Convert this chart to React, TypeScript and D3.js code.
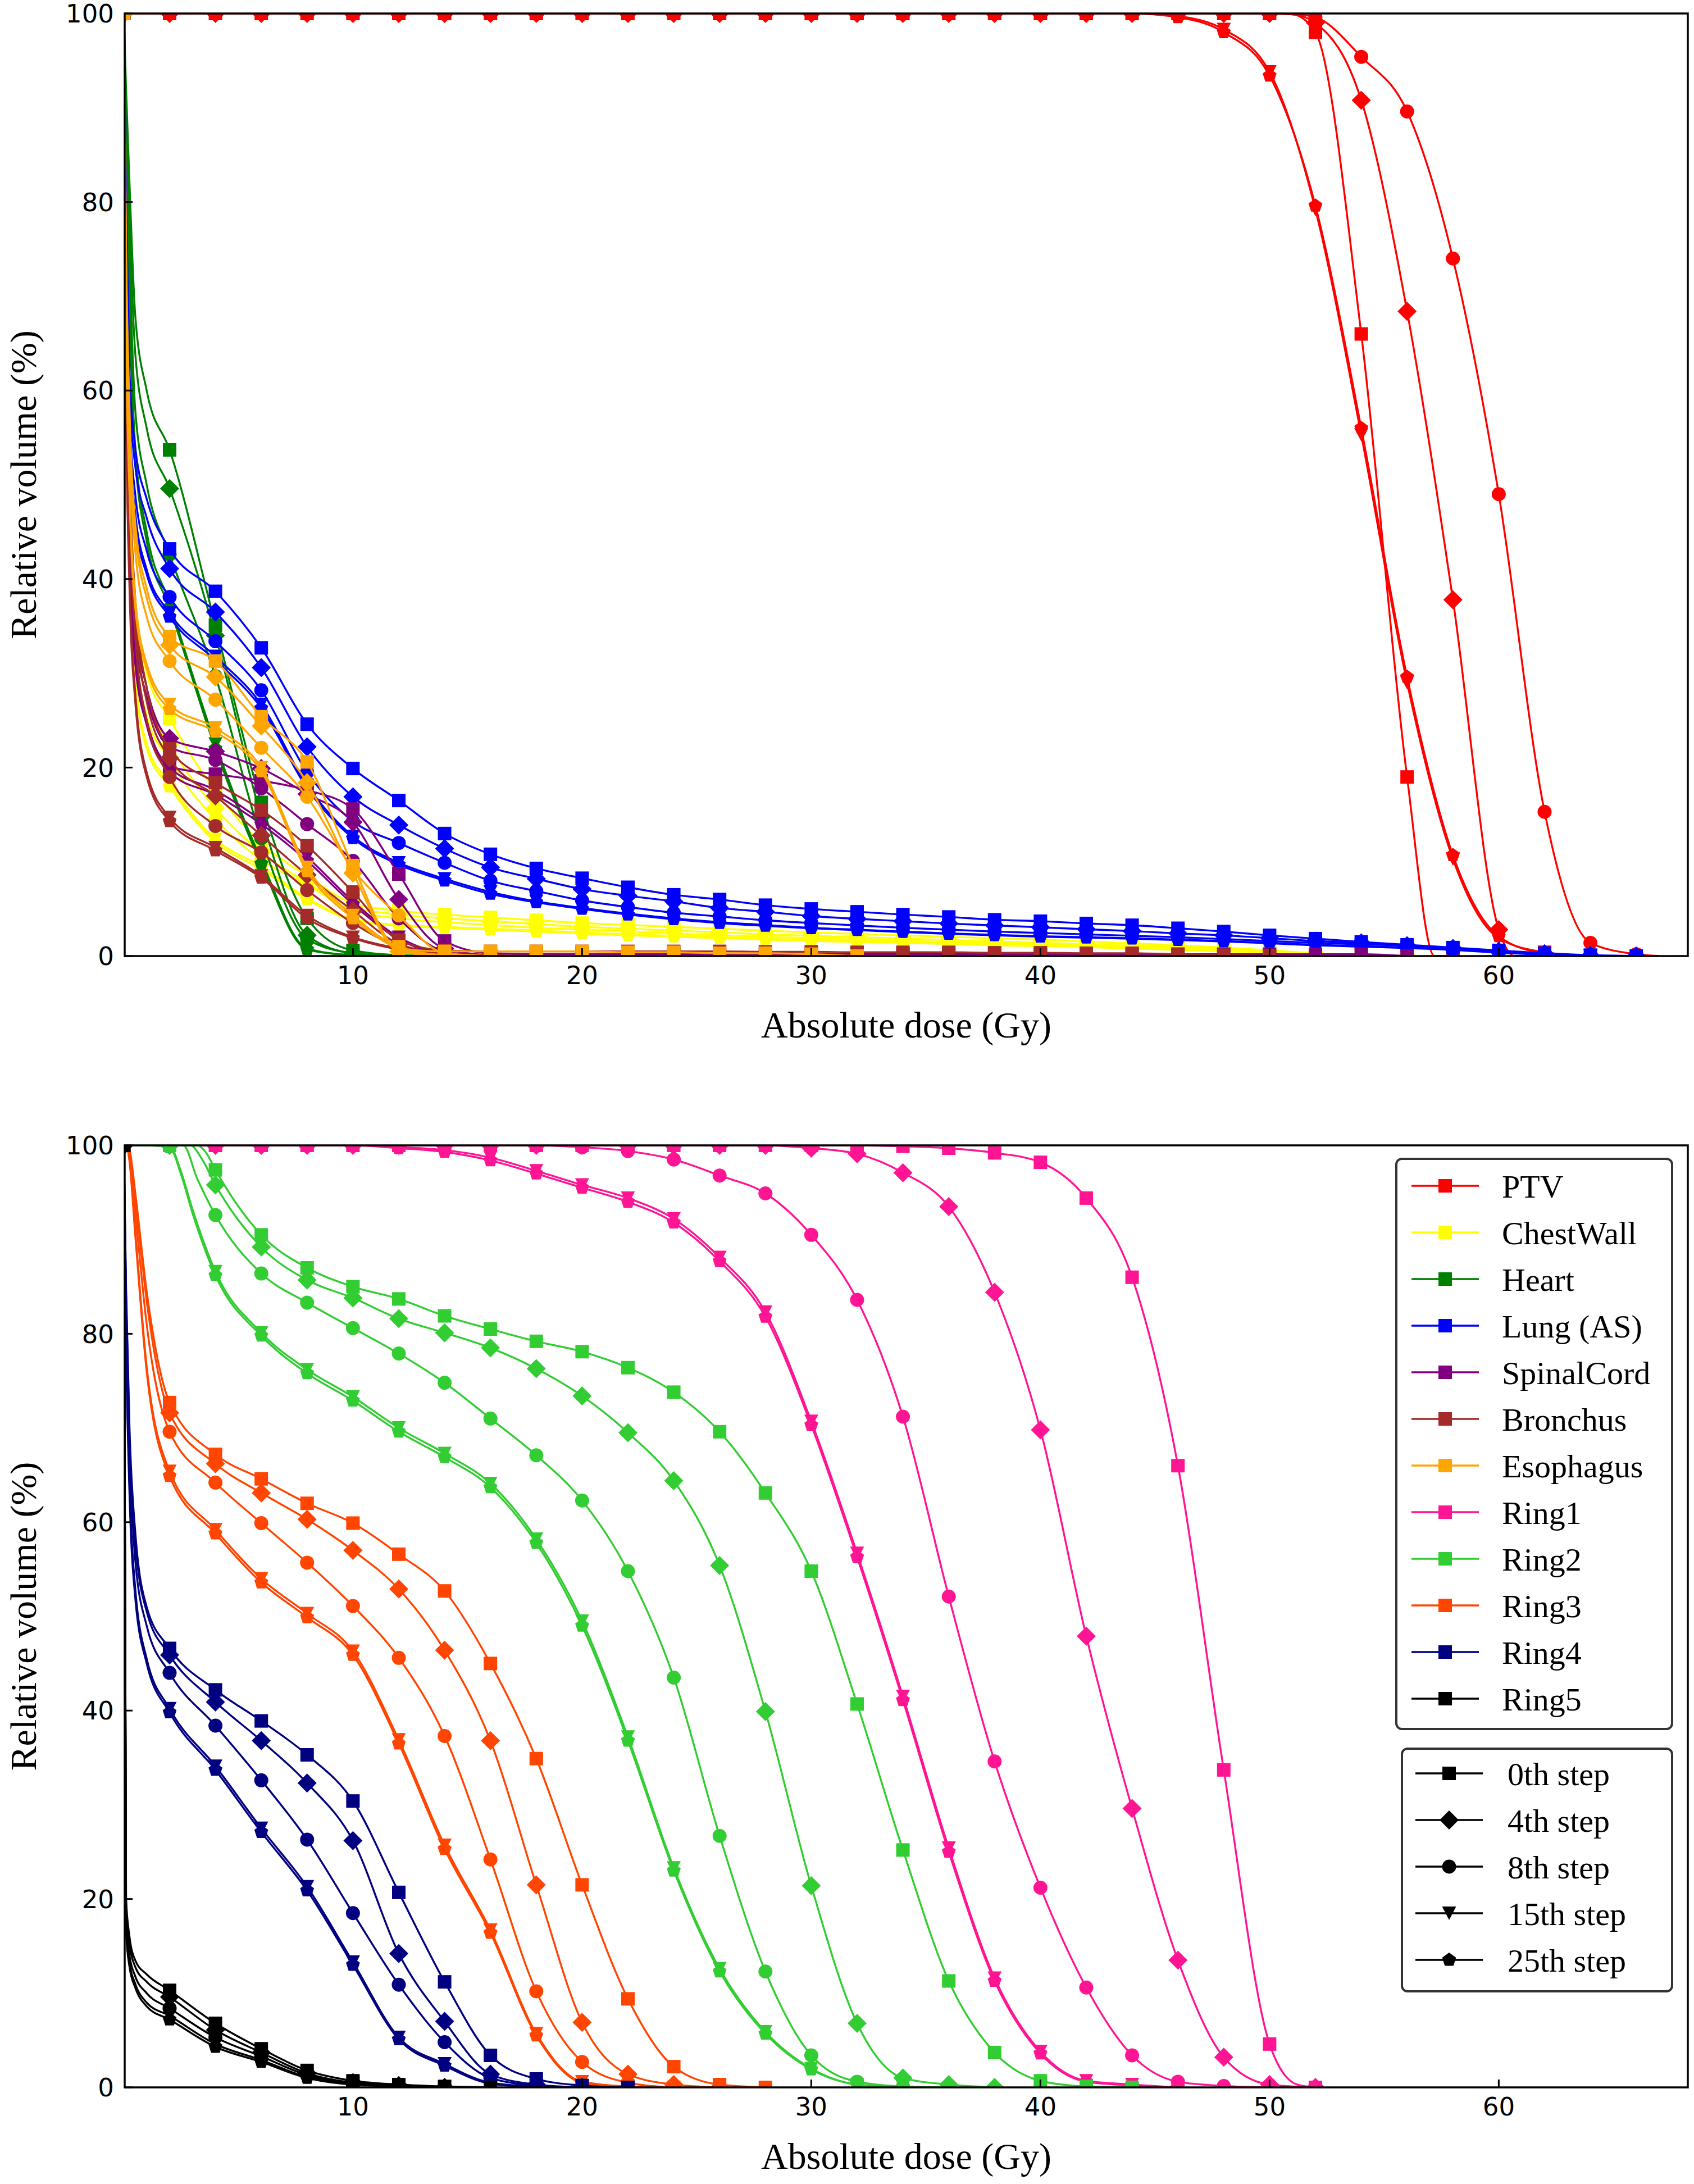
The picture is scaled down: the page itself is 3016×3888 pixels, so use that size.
import React from 'react';
import * as d3 from 'd3';

const W = 3016;
const H = 3888;
const X_DOMAIN: [number, number] = [0.04, 68.25];
const PLOT_LEFT = 222;
const PLOT_RIGHT = 3005;
const TOP_PANEL = { top: 24, bottom: 1702 };
const BOTTOM_PANEL = { top: 2039, bottom: 3716 };

const X_TICKS = [10, 20, 30, 40, 50, 60];
const Y_TICKS = [0, 20, 40, 60, 80, 100];
const HEAD_DOSES = [0.1, 0.25, 0.5, 1];
const STEP_LABELS = ['0th step', '4th step', '8th step', '15th step', '25th step'];
const STEP_MARKERS = ['square', 'diamond', 'circle', 'triangleDown', 'pentagon'];

const STRUCTURE_NAMES = ['PTV', 'ChestWall', 'Heart', 'Lung (AS)', 'SpinalCord', 'Bronchus', 'Esophagus', 'Ring1', 'Ring2', 'Ring3', 'Ring4', 'Ring5'];
const STRUCTURE_COLORS = ['#ff0000', '#ffff00', '#008000', '#0000ff', '#800080', '#a52a2a', '#ffa500', '#ff1493', '#32cd32', '#ff4500', '#000080', '#000000'];

// ---------- values at even doses (0, 2, 4, ... Gy), one row per step (0th, 4th, 8th, 15th, 25th)
const ptvEven = [
  [100, 100, 100, 100, 100, 100, 100, 100, 100, 100, 100, 100, 100, 100, 100, 100, 100, 100, 100, 100, 100, 100, 100, 100, 100, 100, 98.0, 66.0, 19.0, 0],
  [100, 100, 100, 100, 100, 100, 100, 100, 100, 100, 100, 100, 100, 100, 100, 100, 100, 100, 100, 100, 100, 100, 100, 100, 100, 100, 99.0, 90.8, 68.4, 37.8, 2.8, 0],
  [100, 100, 100, 100, 100, 100, 100, 100, 100, 100, 100, 100, 100, 100, 100, 100, 100, 100, 100, 100, 100, 100, 100, 100, 100, 100, 99.6, 95.4, 89.6, 74.0, 49.0, 15.3, 1.4, 0.2],
  [100, 100, 100, 100, 100, 100, 100, 100, 100, 100, 100, 100, 100, 100, 100, 100, 100, 100, 100, 100, 100, 100, 100, 99.7, 98.3, 93.8, 79.2, 55.3, 29.0, 10.3, 1.9, 0.4, 0],
  [100, 100, 100, 100, 100, 100, 100, 100, 100, 100, 100, 100, 100, 100, 100, 100, 100, 100, 100, 100, 100, 100, 100, 99.6, 98.0, 93.4, 79.6, 56.0, 29.6, 10.7, 2.1, 0.3, 0],
];
const ptvHead = [[100, 100, 100, 100], [100, 100, 100, 100], [100, 100, 100, 100], [100, 100, 100, 100], [100, 100, 100, 100]];

const chestWallEven = [
  [100, 25.2, 17.5, 12.0, 8.5, 5.6, 4.8, 4.4, 4.1, 3.8, 3.5, 3.3, 3.1, 2.9, 2.7, 2.5, 2.35, 2.2, 2.05, 1.9, 1.75, 1.55, 1.35, 1.15, 0.9, 0.6, 0.3, 0.1, 0],
  [100, 22.5, 15.7, 11.0, 7.8, 5.2, 4.4, 4.0, 3.7, 3.4, 3.1, 2.9, 2.7, 2.5, 2.3, 2.15, 2.0, 1.85, 1.7, 1.55, 1.4, 1.25, 1.1, 0.95, 0.75, 0.5, 0.25, 0.05, 0],
  [100, 20.8, 14.5, 10.2, 7.6, 4.8, 4.0, 3.6, 3.3, 3.0, 2.8, 2.6, 2.4, 2.2, 2.05, 1.9, 1.75, 1.6, 1.5, 1.35, 1.25, 1.1, 0.95, 0.8, 0.65, 0.45, 0.2, 0.05, 0],
  [100, 18.4, 12.4, 9.5, 6.15, 3.9, 3.3, 3.1, 2.9, 2.7, 2.5, 2.3, 2.15, 2.0, 1.85, 1.7, 1.6, 1.45, 1.35, 1.2, 1.1, 1.0, 0.85, 0.7, 0.55, 0.4, 0.2, 0.05, 0],
  [100, 18.0, 12.1, 9.2, 6.0, 3.8, 3.2, 3.0, 2.8, 2.6, 2.4, 2.2, 2.05, 1.9, 1.75, 1.6, 1.5, 1.4, 1.3, 1.15, 1.05, 0.95, 0.8, 0.65, 0.5, 0.35, 0.15, 0.05, 0],
];
const chestWallHead = [[70, 50, 38, 30], [68, 48, 35, 27.5], [65, 45, 33, 25.5], [62, 42, 30, 22.5], [61, 41, 29.5, 22]];

const heartEven = [
  [100, 53.7, 35.1, 16.3, 4.0, 0.6, 0.1, 0],
  [100, 49.6, 34.0, 14.8, 2.2, 0.3, 0],
  [100, 42.6, 29.7, 12.5, 1.8, 0.3, 0],
  [100, 37.5, 22.5, 10.2, 0.8, 0.1, 0],
  [100, 37.0, 22.0, 9.8, 0.7, 0.1, 0],
];
const heartHead = [[92, 82, 68, 60], [90, 78, 64, 56], [88, 74, 58, 50], [86, 70, 54, 45], [85, 69, 53, 44]];

const lungEven = [
  [100, 43.2, 38.7, 32.7, 24.6, 19.9, 16.5, 13.0, 10.8, 9.3, 8.26, 7.3, 6.5, 6.0, 5.4, 5.0, 4.7, 4.4, 4.15, 3.85, 3.7, 3.46, 3.27, 2.95, 2.6, 2.2, 1.85, 1.5, 1.2, 0.9, 0.6, 0.3, 0.1, 0],
  [100, 41.1, 36.5, 30.6, 22.2, 16.9, 13.9, 11.4, 9.4, 8.2, 7.1, 6.4, 5.8, 5.1, 4.7, 4.25, 3.95, 3.7, 3.45, 3.25, 3.05, 2.85, 2.65, 2.4, 2.2, 1.9, 1.6, 1.4, 1.1, 0.8, 0.5, 0.25, 0.05, 0],
  [100, 38.1, 33.4, 28.2, 19.5, 14.3, 12.0, 9.9, 8.0, 6.9, 5.9, 5.2, 4.6, 4.2, 3.8, 3.5, 3.25, 3.0, 2.8, 2.6, 2.45, 2.3, 2.15, 2.0, 1.8, 1.6, 1.4, 1.25, 1.1, 0.8, 0.5, 0.2, 0],
  [100, 36.4, 31.8, 26.7, 18.1, 12.7, 9.9, 8.2, 6.8, 5.8, 5.1, 4.5, 4.0, 3.6, 3.3, 3.0, 2.8, 2.6, 2.4, 2.25, 2.1, 2.0, 1.9, 1.75, 1.6, 1.4, 1.2, 1.05, 0.9, 0.7, 0.4, 0.2, 0],
  [100, 36.0, 31.4, 26.3, 17.8, 12.5, 9.7, 8.0, 6.6, 5.7, 5.0, 4.4, 3.9, 3.5, 3.2, 2.95, 2.75, 2.55, 2.35, 2.2, 2.05, 1.95, 1.85, 1.7, 1.55, 1.35, 1.15, 1.0, 0.85, 0.65, 0.35, 0.15, 0],
];
const lungHead = [[80, 62, 54, 48.5], [78, 60, 52, 46.5], [75, 57, 49, 43], [73, 55, 47, 41], [72, 54, 46, 40.5]];

const spinalCordEven = [
  [100, 20.1, 19.3, 18.6, 17.6, 15.6, 8.7, 1.6, 0.3, 0.2, 0.2, 0.2, 0.2, 0.2, 0.2, 0.2, 0.2, 0.2, 0.2, 0.2, 0.2, 0.2, 0.2, 0.2, 0.2, 0.2, 0.2, 0.2, 0],
  [100, 23.1, 21.7, 19.9, 17.2, 14.2, 6.0, 0.8, 0.1, 0],
  [100, 22.2, 20.8, 17.8, 14.0, 10.1, 4.0, 0.5, 0],
  [100, 20.0, 17.6, 14.4, 10.5, 5.8, 2.0, 0.3, 0],
  [100, 19.5, 17.1, 14.0, 10.1, 5.5, 1.8, 0.2, 0],
];
const spinalCordHead = [[65, 45, 32, 25], [68, 48, 36, 28.5], [66, 46, 34, 27.5], [64, 44, 32, 25], [63, 43, 31, 24.5]];

const bronchusEven = [
  [100, 22.0, 18.4, 15.5, 11.7, 6.8, 1.7, 0.6, 0.5, 0.5, 0.5, 0.5, 0.5, 0.5, 0.45, 0.45, 0.4, 0.4, 0.4, 0.35, 0.35, 0.3, 0.3, 0.2, 0.1, 0],
  [100, 21.0, 17.0, 12.8, 8.6, 4.8, 1.3, 0.3, 0.1, 0],
  [100, 19.0, 13.8, 11.0, 7.0, 3.5, 1.0, 0.2, 0],
  [100, 14.7, 11.5, 8.5, 4.3, 2.0, 0.8, 0.1, 0],
  [100, 14.3, 11.2, 8.3, 4.0, 1.9, 0.7, 0.1, 0],
];
const bronchusHead = [[72, 52, 38, 28.5], [70, 50, 36, 27], [68, 48, 34, 25], [60, 40, 28, 19.5], [59, 39, 27, 19]];

const esophagusEven = [
  [100, 33.9, 31.3, 25.4, 20.6, 9.6, 0.8, 0.5, 0.5, 0.5, 0.5, 0.4, 0.4, 0.3, 0.3, 0.2, 0],
  [100, 33.0, 29.6, 24.4, 18.4, 8.8, 0.5, 0],
  [100, 31.3, 27.2, 22.1, 16.9, 9.2, 4.3, 0.3, 0],
  [100, 26.7, 24.2, 20.0, 9.4, 4.3, 1.0, 0.1, 0],
  [100, 26.2, 23.8, 19.6, 9.0, 4.0, 0.8, 0],
];
const esophagusHead = [[75, 58, 46, 39], [74, 57, 45, 38], [72, 55, 43, 36], [68, 50, 38, 31], [67, 49, 37, 30.5]];

const ring1Even = [
  [100, 100, 100, 100, 100, 100, 100, 100, 100, 100, 100, 100, 100, 100, 100, 100, 100, 99.9, 99.7, 99.2, 98.2, 94.4, 86.0, 66.0, 33.7, 4.6, 0],
  [100, 100, 100, 100, 100, 100, 100, 100, 100, 100, 100, 100, 100, 100, 100, 99.7, 99.1, 97.1, 93.5, 84.4, 69.8, 47.9, 29.6, 13.5, 3.2, 0.3, 0],
  [100, 100, 100, 100, 100, 100, 100, 100, 100, 100, 99.8, 99.4, 98.5, 96.8, 94.9, 90.5, 83.6, 71.2, 52.1, 34.6, 21.2, 10.6, 3.4, 0.6, 0.15, 0],
  [100, 100, 100, 100, 100, 100, 99.8, 99.5, 98.7, 97.3, 95.8, 94.4, 92.2, 88.1, 82.3, 70.7, 56.7, 41.5, 25.4, 11.6, 3.8, 0.7, 0.3, 0],
  [100, 100, 100, 100, 100, 100, 99.7, 99.3, 98.4, 97.0, 95.5, 94.0, 91.8, 87.7, 81.8, 70.3, 56.3, 41.1, 25.0, 11.3, 3.6, 0.6, 0.2, 0],
];
const ring1Head = [[100, 100, 100, 100], [100, 100, 100, 100], [100, 100, 100, 100], [100, 100, 100, 100], [100, 100, 100, 100]];

const ring2Even = [
  [100, 100, 97.4, 90.5, 87.0, 85.0, 83.7, 81.9, 80.5, 79.2, 78.1, 76.4, 73.8, 69.6, 63.1, 54.8, 40.7, 25.2, 11.3, 3.7, 0.7, 0.1, 0],
  [100, 100, 95.8, 89.2, 85.7, 83.8, 81.6, 80.1, 78.5, 76.3, 73.4, 69.5, 64.4, 55.4, 39.9, 21.4, 6.8, 1.0, 0.3, 0],
  [100, 100, 92.6, 86.4, 83.3, 80.6, 77.9, 74.8, 71.0, 67.1, 62.3, 54.8, 43.5, 26.7, 12.3, 3.4, 0.6, 0.1, 0],
  [100, 99.9, 86.6, 80.1, 76.2, 73.3, 70.0, 67.3, 64.1, 58.2, 49.5, 37.2, 23.3, 12.6, 5.9, 2.0, 0.3, 0],
  [100, 99.8, 86.2, 79.8, 75.8, 72.9, 69.6, 66.9, 63.7, 57.8, 49.0, 36.8, 23.0, 12.3, 5.7, 1.9, 0.3, 0],
];
const ring2Head = [[100, 100, 100, 100], [100, 100, 100, 100], [100, 100, 100, 100], [100, 100, 100, 100], [100, 100, 100, 100]];

const ring3Even = [
  [100, 72.7, 67.2, 64.6, 62.0, 59.9, 56.6, 52.7, 45.0, 34.9, 21.5, 9.4, 2.2, 0.3, 0],
  [100, 71.6, 66.2, 63.1, 60.3, 57.0, 52.9, 46.4, 36.8, 21.5, 6.9, 1.4, 0.3, 0],
  [100, 69.6, 64.2, 59.9, 55.7, 51.1, 45.6, 37.3, 24.2, 10.2, 2.7, 0.5, 0],
  [100, 65.4, 59.2, 54.0, 50.3, 46.3, 36.9, 25.7, 16.7, 5.7, 0.6, 0.1, 0],
  [100, 64.9, 58.8, 53.6, 49.9, 45.9, 36.5, 25.3, 16.4, 5.5, 0.5, 0],
];
const ring3Head = [[100, 99.5, 95, 84.5], [100, 99.3, 94.5, 83.5], [100, 99, 93, 81], [100, 98.5, 91, 76.5], [100, 98.3, 90.5, 76]];

const ring4Even = [
  [100, 46.6, 42.2, 38.9, 35.3, 30.4, 20.7, 11.2, 3.4, 0.9, 0.2, 0],
  [100, 45.9, 40.9, 36.8, 32.3, 26.2, 14.2, 7.0, 1.4, 0.3, 0],
  [100, 44.0, 38.4, 32.6, 26.3, 18.5, 10.9, 4.8, 1.0, 0.2, 0],
  [100, 40.2, 34.1, 27.5, 21.3, 13.3, 5.3, 2.5, 0.5, 0.1, 0],
  [100, 39.8, 33.7, 27.1, 20.9, 13.0, 5.1, 2.3, 0.4, 0],
];
const ring4Head = [[85, 70, 59, 51], [84, 69, 58, 50.5], [83, 68, 56, 49], [80, 64, 53, 45.5], [79, 63, 52, 45]];

const ring5Even = [
  [100, 10.3, 6.8, 4.1, 1.8, 0.7, 0.3, 0.1, 0],
  [100, 9.6, 6.1, 3.7, 1.5, 0.5, 0.2, 0],
  [100, 8.4, 5.3, 3.3, 1.3, 0.45, 0.15, 0],
  [100, 7.6, 4.6, 2.9, 1.1, 0.35, 0.1, 0],
  [100, 7.2, 4.3, 2.7, 1.0, 0.3, 0.1, 0],
];
const ring5Head = [[20, 16, 13.5, 12.0], [19, 15.2, 12.8, 11.2], [18, 14, 11.8, 10.0], [17, 13.2, 11, 9.0], [16.5, 12.8, 10.6, 8.6]];

// extra shape knots (no marker): key = structure|step index
const EXTRA_KNOTS: Record<string, [number, number][]> = {
  'PTV|0': [[51, 99.9], [57.2, 0]],
  'PTV|1': [[51, 99.9], [60.7, 0]],
  'PTV|2': [[51, 99.95], [67, 0]],
  'Ring1|0': [[51.2, 0.3]],
  'Ring2|0': [[3.2, 100], [3.6, 99.2]],
  'Ring2|1': [[2.9, 100], [3.4, 98.6]],
  'Ring2|2': [[2.6, 100], [3.2, 96.5]],
  'Ring2|3': [[2.5, 97.2], [3, 93.2]],
  'Ring2|4': [[2.5, 96.9], [3, 92.8]],
};

const EVEN_SETS = [ptvEven, chestWallEven, heartEven, lungEven, spinalCordEven, bronchusEven, esophagusEven, ring1Even, ring2Even, ring3Even, ring4Even, ring5Even];
const HEAD_SETS = [ptvHead, chestWallHead, heartHead, lungHead, spinalCordHead, bronchusHead, esophagusHead, ring1Head, ring2Head, ring3Head, ring4Head, ring5Head];

const TOP_IDX = [0, 1, 2, 3, 4, 5, 6];
const BOTTOM_IDX = [7, 8, 9, 10, 11];

const SERIF = '"Liberation Serif", "Times New Roman", Times, serif';
const SANS = '"DejaVu Sans", Verdana, sans-serif';

const x = d3.scaleLinear().domain(X_DOMAIN).range([PLOT_LEFT, PLOT_RIGHT]);

function markerPath(kind: string): string {
  switch (kind) {
    case 'square':
      return 'M-12,-12H12V12H-12Z';
    case 'diamond':
      return 'M0,-17L17,0L0,17L-17,0Z';
    case 'circle':
      return 'M12.5,0A12.5,12.5 0 1 1 -12.5,0A12.5,12.5 0 1 1 12.5,0Z';
    case 'triangleDown':
      return 'M-12.5,-12L12.5,-12L0,12Z';
    case 'pentagon': {
      const r = 13;
      const pts = d3.range(5).map((k) => {
        const a = -Math.PI / 2 + (k * 2 * Math.PI) / 5;
        return `${(r * Math.cos(a)).toFixed(2)},${(r * Math.sin(a)).toFixed(2)}`;
      });
      return 'M' + pts.join('L') + 'Z';
    }
    default:
      return '';
  }
}

function buildKnots(si: number, step: number): [number, number][] {
  const even = EVEN_SETS[si][step];
  const head = HEAD_SETS[si][step];
  const knots: [number, number][] = [];
  even.forEach((v, k) => knots.push([2 * k, v]));
  head.forEach((v, j) => knots.push([HEAD_DOSES[j], v]));
  (EXTRA_KNOTS[`${STRUCTURE_NAMES[si]}|${step}`] || []).forEach((p) => knots.push(p));
  knots.sort((a, b) => a[0] - b[0]);
  return knots;
}

function Panel({ top, bottom, idx, clipId }: { top: number; bottom: number; idx: number[]; clipId: string }) {
  const y = d3.scaleLinear().domain([0, 100]).range([bottom, top]);
  const line = d3
    .line<[number, number]>()
    .x((d) => x(d[0]))
    .y((d) => y(d[1]))
    .curve(d3.curveMonotoneX);
  const cx = (PLOT_LEFT + PLOT_RIGHT) / 2;
  const cy = (top + bottom) / 2;
  return (
    <g>
      <defs>
        <clipPath id={clipId}>
          <rect x={PLOT_LEFT} y={top} width={PLOT_RIGHT - PLOT_LEFT} height={bottom - top} />
        </clipPath>
      </defs>
      <g clipPath={`url(#${clipId})`}>
        {idx.map((si) =>
          EVEN_SETS[si].map((vals, step) => (
            <g key={`${si}-${step}`}>
              <path
                d={line(buildKnots(si, step)) || ''}
                fill="none"
                stroke={STRUCTURE_COLORS[si]}
                strokeWidth={3.4}
                strokeLinejoin="round"
              />
              {vals.map((v, k) => (
                <path
                  key={k}
                  transform={`translate(${x(2 * k)},${y(v)})`}
                  d={markerPath(STEP_MARKERS[step])}
                  fill={STRUCTURE_COLORS[si]}
                />
              ))}
            </g>
          ))
        )}
      </g>
      {/* ticks (inward) */}
      {X_TICKS.map((t) => (
        <g key={`xt${t}`}>
          <line x1={x(t)} x2={x(t)} y1={bottom} y2={bottom - 14} stroke="#000" strokeWidth={3} />
          <text x={x(t)} y={bottom + 50} textAnchor="middle" fontFamily={SANS} fontSize={45} fill="#000">
            {t}
          </text>
        </g>
      ))}
      {Y_TICKS.map((t) => (
        <g key={`yt${t}`}>
          <line x1={PLOT_LEFT} x2={PLOT_LEFT + 14} y1={y(t)} y2={y(t)} stroke="#000" strokeWidth={3} />
          <text x={203} y={y(t)} dy="0.36em" textAnchor="end" fontFamily={SANS} fontSize={45} fill="#000">
            {t}
          </text>
        </g>
      ))}
      <rect
        x={PLOT_LEFT}
        y={top}
        width={PLOT_RIGHT - PLOT_LEFT}
        height={bottom - top}
        fill="none"
        stroke="#000"
        strokeWidth={3.5}
      />
      <text x={cx} y={bottom + 145} textAnchor="middle" fontFamily={SERIF} fontSize={66} fill="#000">
        Absolute dose (Gy)
      </text>
      <text
        transform={`translate(64,${cy}) rotate(-90)`}
        textAnchor="middle"
        fontFamily={SERIF}
        fontSize={66}
        fill="#000"
      >
        Relative volume (%)
      </text>
    </g>
  );
}

function Legends() {
  const rowStep = 83;
  const l1 = { x0: 2486, x1: 2977, y0: 2063, y1: 3078, firstRow: 2111, lineX0: 2513, lineX1: 2633, markX: 2573, textX: 2674 };
  const l2 = { x0: 2496, x1: 2977, y0: 3113, y1: 3545, firstRow: 3157, lineX0: 2520, lineX1: 2640, markX: 2580, textX: 2684 };
  return (
    <g>
      <rect x={l1.x0} y={l1.y0} width={l1.x1 - l1.x0} height={l1.y1 - l1.y0} rx={10} ry={10} fill="#fff" stroke="#333" strokeWidth={4} />
      {STRUCTURE_NAMES.map((name, i) => {
        const yy = l1.firstRow + i * rowStep;
        return (
          <g key={name}>
            <line x1={l1.lineX0} x2={l1.lineX1} y1={yy} y2={yy} stroke={STRUCTURE_COLORS[i]} strokeWidth={3.4} />
            <path transform={`translate(${l1.markX},${yy})`} d={markerPath('square')} fill={STRUCTURE_COLORS[i]} />
            <text x={l1.textX} y={yy + 21} fontFamily={SERIF} fontSize={58} fill="#000">
              {name}
            </text>
          </g>
        );
      })}
      <rect x={l2.x0} y={l2.y0} width={l2.x1 - l2.x0} height={l2.y1 - l2.y0} rx={10} ry={10} fill="#fff" stroke="#333" strokeWidth={4} />
      {STEP_LABELS.map((label, i) => {
        const yy = l2.firstRow + i * rowStep;
        return (
          <g key={label}>
            <line x1={l2.lineX0} x2={l2.lineX1} y1={yy} y2={yy} stroke="#000" strokeWidth={3.4} />
            <path transform={`translate(${l2.markX},${yy})`} d={markerPath(STEP_MARKERS[i])} fill="#000" />
            <text x={l2.textX} y={yy + 21} fontFamily={SERIF} fontSize={58} fill="#000">
              {label}
            </text>
          </g>
        );
      })}
    </g>
  );
}

export default function App() {
  return (
    <svg
      width={W}
      height={H}
      viewBox={`0 0 ${W} ${H}`}
      style={{ position: 'absolute', left: 0, top: 0, display: 'block', background: '#fff' }}
    >
      <rect x={0} y={0} width={W} height={H} fill="#fff" />
      <Panel top={TOP_PANEL.top} bottom={TOP_PANEL.bottom} idx={TOP_IDX} clipId="clipTop" />
      <Panel top={BOTTOM_PANEL.top} bottom={BOTTOM_PANEL.bottom} idx={BOTTOM_IDX} clipId="clipBottom" />
      <Legends />
    </svg>
  );
}
